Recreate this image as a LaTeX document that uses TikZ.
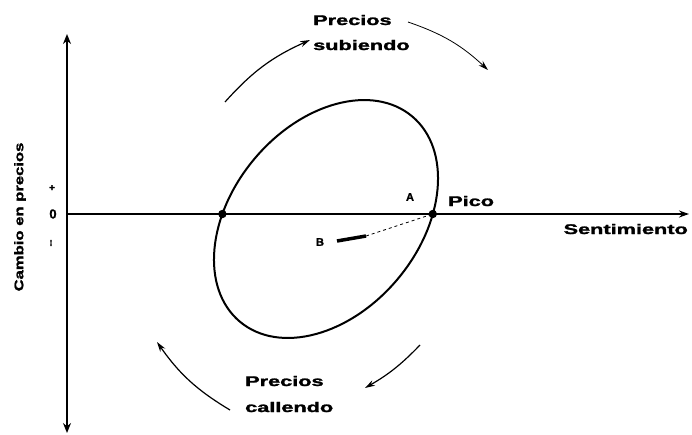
\documentclass[tikz,border=0pt]{standalone}
\usepackage{fontspec}
\usepackage{graphicx}
\setmainfont{Liberation Sans}
\newfontfamily\heavy{Liberation Sans}[FakeBold=1.5]
\newcommand\wide[2]{\scalebox{#1}[1]{#2}}
\usetikzlibrary{arrows.meta}
\begin{document}
\begin{tikzpicture}[x=1pt,y=-1pt,
  lbl/.style={font=\heavy\bfseries\fontsize{14}{16}\selectfont, inner sep=0pt},
  small/.style={font=\heavy\bfseries\fontsize{11}{13}\selectfont, inner sep=0pt},
  axisline/.style={line width=2pt},
  arr/.style={line width=1.2pt, -{Stealth[length=10pt,width=6pt]}}]
\useasboundingbox (0,0) rectangle (692,434);
% axes
\coordinate (ybot) at (67,433);
\coordinate (ytop) at (67,34);
\coordinate (O) at (67,214);
\coordinate (xend) at (689,214);
\draw[axisline, {Stealth[length=10pt,width=8pt]}-{Stealth[length=10pt,width=8pt]}] (ybot) -- (ytop);
\draw[axisline, -{Stealth[length=10pt,width=7pt]}] (O) -- (xend);
% ellipse
\coordinate (C) at (326,219);
\draw[line width=2pt, rotate around={50:(C)}] (C) ellipse [x radius=134pt, y radius=93.5pt];
\coordinate (left) at (222.4,214);
\coordinate (pk) at (432.8,214);
\fill (left) circle (4.2pt);
\fill (pk) circle (4.2pt);
% axis labels
\node[font=\heavy\bfseries\fontsize{12.5}{14}\selectfont, rotate=90, inner sep=0pt] (ylab) at (20,217) {\wide{1.33}{Cambio en precios}};
\node[small, font=\heavy\bfseries\fontsize{13}{15}\selectfont] (zero) at (53,214) {0};
\node[small, font=\heavy\bfseries\fontsize{10}{12}\selectfont] (plus) at (52,188) {+};
\node[small, font=\heavy\bfseries\fontsize{10}{12}\selectfont, rotate=90] (minus) at (52,243) {--};
\node[lbl, anchor=east] (sent) at (688,229) {\wide{1.55}{Sentimiento}};
% point labels
\node[small] (A) at (410,197) {A};
\node[lbl, anchor=west] (pico) at (448,201) {\wide{1.55}{Pico}};
\node[small] (B) at (320,242) {B};
\coordinate (bs) at (337,241);
\coordinate (bm) at (366,236);
\draw[line width=3.5pt] (bs) -- (bm);
\draw[dashed, line width=0.8pt] (bm) -- (pk);
% price labels
\node[lbl, anchor=west] (pu1) at (313,20) {\wide{1.55}{Precios}};
\node[lbl, anchor=west] (pu2) at (313,45) {\wide{1.55}{subiendo}};
\node[lbl, anchor=west] (pd1) at (245,381) {\wide{1.55}{Precios}};
\node[lbl, anchor=west] (pd2) at (245,407) {\wide{1.55}{callendo}};
% circulation arrows
\coordinate (a1s) at (225,102); \coordinate (a1e) at (310,40);
\coordinate (a2s) at (408,22);  \coordinate (a2e) at (488,70);
\coordinate (a3s) at (420,345); \coordinate (a3e) at (365,388);
\coordinate (a4s) at (230,410); \coordinate (a4e) at (157,342);
\draw[arr] (a1s) to[bend left=12] (a1e);
\draw[arr, line width=0.8pt] (a2s) to[bend left=12] (a2e);
\draw[arr] (a3s) to[bend left=8] (a3e);
\draw[arr] (a4s) to[bend left=12] (a4e);
\end{tikzpicture}
\end{document}
